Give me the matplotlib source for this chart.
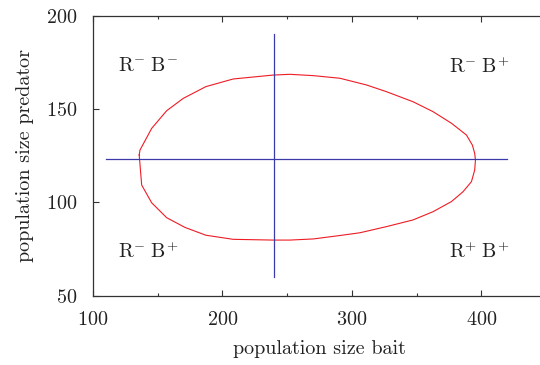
import matplotlib
matplotlib.use('Agg')
from matplotlib import pyplot as plt
from matplotlib.ticker import MultipleLocator

plt.rcParams['font.family'] = 'serif'
plt.rcParams['font.serif'] = ['cmr10']
plt.rcParams['mathtext.fontset'] = 'cm'
plt.rcParams['axes.formatter.use_mathtext'] = True

# predator-prey orbit: bait (x) vs predator (y)
bait = [135.7, 136.3, 145.3, 156.9, 169.7, 187.2, 208.3, 239.2, 252.1, 270.1,
        290.7, 311.3, 326.7, 347.3, 362.7, 376.9, 388.5, 393.1, 394.9, 395.5,
        394.9, 392.4, 385.9, 376.9, 362.7, 347.3, 326.7, 306.1, 288.1, 270.1,
        252.1, 239.2, 208.3, 187.2, 171.0, 156.9, 145.3, 137.6, 135.7]
predator = [125.4, 128.0, 139.6, 149.1, 155.7, 162.0, 166.1, 168.2, 168.6, 167.9,
            166.5, 162.9, 159.3, 153.9, 148.6, 142.4, 136.1, 130.7, 126.3, 122.7,
            117.3, 111.1, 105.7, 100.4, 95.0, 90.6, 87.0, 83.7, 82.0, 80.4,
            79.8, 79.8, 80.2, 82.4, 86.6, 91.8, 99.8, 109.3, 125.4]

# equilibrium cross-hair
eq_bait = 240
eq_pred = 123
hline_x = [110, 420]
vline_y = [60, 190]

quad_labels = [r'$\mathrm{R}^{-}\;\mathrm{B}^{-}$', r'$\mathrm{R}^{-}\;\mathrm{B}^{+}$',
               r'$\mathrm{R}^{-}\;\mathrm{B}^{+}$', r'$\mathrm{R}^{+}\;\mathrm{B}^{+}$']
quad_x = [142.5, 398, 142.5, 398]
quad_y = [173, 173, 73.5, 73.5]

fig = plt.figure(figsize=(5.4, 3.65), dpi=100)
ax = fig.add_axes([93 / 540, 69.3 / 365, 453 / 540, 280 / 365])

ax.plot(bait, predator, color='#ee1c25', lw=0.8)
ax.plot(hline_x, [eq_pred, eq_pred], color='#3a3aa8', lw=0.9)
ax.plot([eq_bait, eq_bait], vline_y, color='#3a3aa8', lw=0.9)

for txt, x, y in zip(quad_labels, quad_x, quad_y):
    ax.text(x, y, txt, ha='center', va='center', fontsize=14.5, color='#222222')

ax.set_xlim(100, 450)
ax.set_ylim(50, 200)
ax.xaxis.set_major_locator(MultipleLocator(100))
ax.xaxis.set_minor_locator(MultipleLocator(50))
ax.yaxis.set_major_locator(MultipleLocator(50))
ax.tick_params(which='both', direction='in', top=True, right=True,
               labelsize=14.5, colors='#333333', labelcolor='#222222', pad=11)
ax.tick_params(which='major', length=4.5, width=0.8)
ax.tick_params(which='minor', length=2.2, width=0.8)
for s in ax.spines.values():
    s.set_color('#333333')
    s.set_linewidth(0.9)

ax.set_xlabel('population size bait', fontsize=14.5, color='#222222', labelpad=8)
ax.set_ylabel('population size predator', fontsize=14.5, color='#222222', labelpad=9)

fig.savefig('out.png', dpi=100)
